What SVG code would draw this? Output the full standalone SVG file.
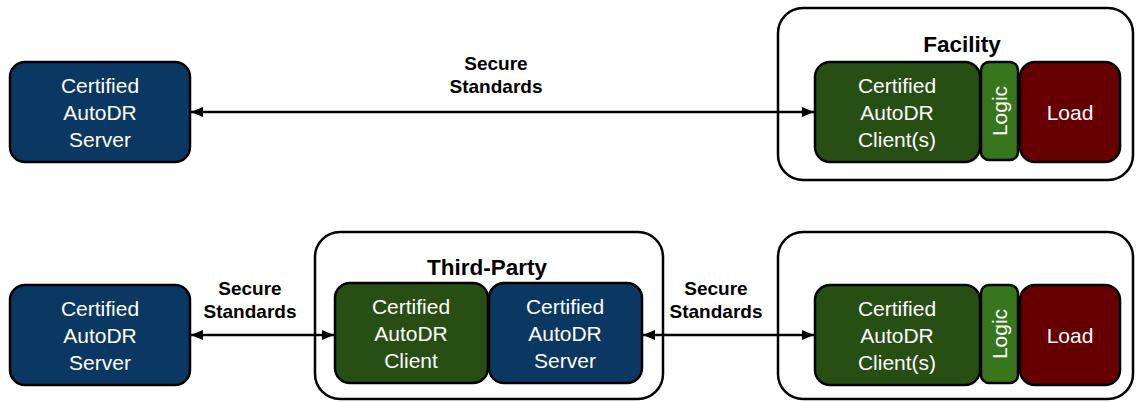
<svg xmlns="http://www.w3.org/2000/svg" width="1137" height="402" viewBox="0 0 1137 402">
  <defs>
    <marker id="arrow" viewBox="0 0 12 10" refX="12" refY="5" markerWidth="12" markerHeight="10" markerUnits="userSpaceOnUse" orient="auto-start-reverse">
      <path d="M0,0 L12,5 L0,10 z" fill="#000"/>
    </marker>
    <style>
      .box { stroke: #000; stroke-width: 2.5; }
      .server { fill: #0b3763; }
      .client { fill: #274e13; }
      .logic { fill: #38761d; }
      .load { fill: #660000; }
      .frame { fill: #fff; stroke: #000; stroke-width: 2.5; }
      .txt { font-family: "Liberation Sans", Arial, sans-serif; font-size: 21px; fill: #fff; text-anchor: middle; }
      .lbl { font-family: "Liberation Sans", Arial, sans-serif; font-size: 19px; font-weight: bold; fill: #000; text-anchor: middle; }
      .title { font-family: "Liberation Sans", Arial, sans-serif; font-size: 22.5px; font-weight: bold; fill: #000; text-anchor: middle; }
      .wire { stroke: #000; stroke-width: 2.5; fill: none; }
    </style>
  </defs>
  <rect width="1137" height="402" fill="#fff"/>

  <!-- containers -->
  <g id="facility-top">
    <rect class="frame" x="778" y="8" width="355" height="172" rx="25"/>
    <text class="title" x="962" y="52">Facility</text>
  </g>
  <g id="third-party">
    <rect class="frame" x="315" y="232" width="348" height="167" rx="25"/>
    <text class="title" x="487" y="275">Third-Party</text>
  </g>
  <g id="facility-bottom">
    <rect class="frame" x="778" y="232" width="355" height="167" rx="25"/>
  </g>

  <!-- connectors -->
  <g id="connectors">
    <line class="wire" x1="191" y1="112" x2="814" y2="112" marker-start="url(#arrow)" marker-end="url(#arrow)"/>
    <text class="lbl" x="496" y="70">Secure</text>
    <text class="lbl" x="496" y="93">Standards</text>
    <line class="wire" x1="191" y1="335" x2="334" y2="335" marker-start="url(#arrow)" marker-end="url(#arrow)"/>
    <text class="lbl" x="250" y="295">Secure</text>
    <text class="lbl" x="250" y="318">Standards</text>
    <line class="wire" x1="643" y1="335" x2="814" y2="335" marker-start="url(#arrow)" marker-end="url(#arrow)"/>
    <text class="lbl" x="716" y="295">Secure</text>
    <text class="lbl" x="716" y="318">Standards</text>
  </g>

  <!-- top row -->
  <g id="server-top">
    <rect class="box server" x="10" y="62" width="180" height="100" rx="15"/>
    <text class="txt" x="100" y="93">Certified</text>
    <text class="txt" x="100" y="120">AutoDR</text>
    <text class="txt" x="100" y="147">Server</text>
  </g>
  <g id="client-top">
    <rect class="box client" x="815" y="62" width="165" height="100" rx="15"/>
    <text class="txt" x="897" y="93">Certified</text>
    <text class="txt" x="897" y="120">AutoDR</text>
    <text class="txt" x="897" y="147">Client(s)</text>
  </g>
  <g id="logic-top">
    <rect class="box logic" x="981" y="62" width="37" height="98" rx="8"/>
    <text class="txt" transform="translate(1007,111) rotate(-90)" x="0" y="0">Logic</text>
  </g>
  <g id="load-top">
    <rect class="box load" x="1020" y="62" width="100" height="100" rx="15"/>
    <text class="txt" x="1070" y="120">Load</text>
  </g>

  <!-- bottom row -->
  <g id="server-bottom">
    <rect class="box server" x="10" y="285" width="180" height="100" rx="15"/>
    <text class="txt" x="100" y="316">Certified</text>
    <text class="txt" x="100" y="343">AutoDR</text>
    <text class="txt" x="100" y="370">Server</text>
  </g>
  <g id="client-third-party">
    <rect class="box client" x="335" y="283" width="153" height="100" rx="15"/>
    <text class="txt" x="411" y="314">Certified</text>
    <text class="txt" x="411" y="341">AutoDR</text>
    <text class="txt" x="411" y="368">Client</text>
  </g>
  <g id="server-third-party">
    <rect class="box server" x="489" y="283" width="153" height="100" rx="15"/>
    <text class="txt" x="565" y="314">Certified</text>
    <text class="txt" x="565" y="341">AutoDR</text>
    <text class="txt" x="565" y="368">Server</text>
  </g>
  <g id="client-bottom">
    <rect class="box client" x="815" y="285" width="165" height="100" rx="15"/>
    <text class="txt" x="897" y="316">Certified</text>
    <text class="txt" x="897" y="343">AutoDR</text>
    <text class="txt" x="897" y="370">Client(s)</text>
  </g>
  <g id="logic-bottom">
    <rect class="box logic" x="981" y="285" width="37" height="98" rx="8"/>
    <text class="txt" transform="translate(1007,334) rotate(-90)" x="0" y="0">Logic</text>
  </g>
  <g id="load-bottom">
    <rect class="box load" x="1020" y="285" width="100" height="100" rx="15"/>
    <text class="txt" x="1070" y="343">Load</text>
  </g>
</svg>
